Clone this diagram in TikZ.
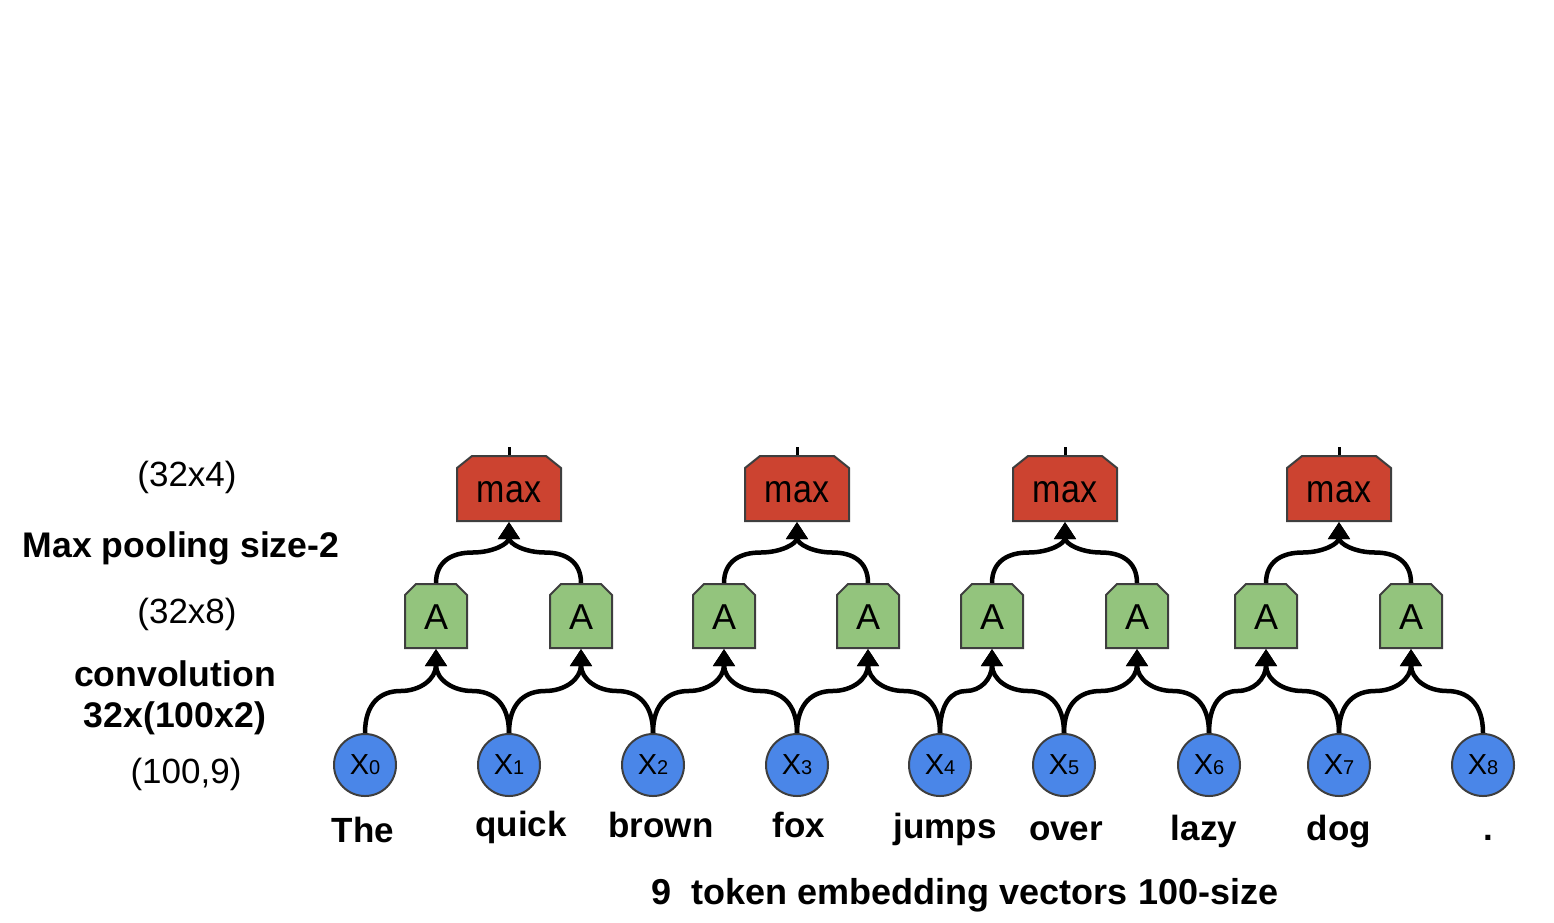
\documentclass[tikz,border=0pt]{standalone}
\usepackage{fontspec}
\setmainfont{Liberation Sans}
\usetikzlibrary{arrows.meta,calc}
\definecolor{maxred}{RGB}{204,67,48}
\definecolor{agreen}{RGB}{147,196,125}
\definecolor{xblue}{RGB}{74,134,232}
\definecolor{edgegray}{RGB}{62,62,62}
\newcommand{\chbox}[8]{%
  \path[fill=#8,draw=edgegray,line width=2pt,line join=miter]
    (#2-#4/2,#3+#5/2) -- (#2-#4/2,#3-#5/2+#7) -- (#2-#4/2+#6,#3-#5/2)
    -- (#2+#4/2-#6,#3-#5/2) -- (#2+#4/2,#3-#5/2+#7) -- (#2+#4/2,#3+#5/2) -- cycle;
  \node[minimum width=#4pt,minimum height=#5pt,inner sep=0pt,outer sep=1pt] (#1) at (#2,#3) {};}
% S-shaped connector from #1 up to #2
\newcommand{\sconn}[2]{%
  \path ($(#1)!.5!(#2)$) coordinate (mc);
  \draw[conn] (#1) .. controls ($(#1)!.72!(#1 |- mc)$) and ($(mc)!.55!(#1 |- mc)$) .. (mc)
     .. controls ($(mc)!.55!(#2 |- mc)$) and ($(#2)!.72!(#2 |- mc)$) .. (#2);}
\begin{document}
\begin{tikzpicture}[x=1pt,y=-1pt,
  conn/.style={line width=4.5pt,-{Triangle[width=21pt,length=17pt]}},
  xnode/.style={circle,draw=edgegray,line width=2pt,fill=xblue,minimum size=62pt,inner sep=0pt,
    font=\fontsize{29}{29}\selectfont},
  boxtext/.style={anchor=base,font=\fontsize{36}{36}\selectfont,inner sep=0pt},
  word/.style={anchor=base,font=\fontsize{35}{35}\selectfont\bfseries,inner sep=0pt},
  side/.style={anchor=base,font=\fontsize{35}{35}\selectfont,inner sep=0pt},
  sideb/.style={anchor=base,font=\fontsize{35.6}{35.6}\selectfont\bfseries,inner sep=0pt}]
\useasboundingbox (0,0) rectangle (1554,922);

% left labels
\node[side]  (l1) at (187,486) {(32x4)};
\node[sideb] (l2) at (181,557) {Max pooling size-2};
\node[side]  (l3) at (187,623) {(32x8)};
\node[sideb] (l4) at (175,686) {convolution};
\node[sideb] (l5) at (175,727) {32x(100x2)};
\node[side]  (l6) at (186,783) {(100,9)};

% max boxes
\foreach \n/\x in {1/509,2/797,3/1065,4/1339}{
  \chbox{m\n}{\x}{488.5}{104}{65}{15}{12}{maxred}
  \node[boxtext,font=\fontsize{34}{34}\selectfont] (mt\n) at (\x,502) {\scalebox{1}[1.15]{max}};
  \draw[line width=3pt] (m\n.north) -- ++(0,-8);
}
% A boxes
\foreach \n/\x in {1/436,2/581,3/724,4/868,5/992,6/1137,7/1266,8/1411}{
  \chbox{a\n}{\x}{616}{62}{64}{11}{11}{agreen}
  \node[boxtext] (at\n) at (\x,629) {A};
}
% input nodes
\foreach \n/\x in {0/365,1/509,2/653,3/797,4/940,5/1064,6/1209,7/1339,8/1483}{
  \node[xnode] (x\n) at (\x,765) {\raisebox{-2pt}{X{\fontsize{20}{20}\selectfont\n}}};
}
% words
\node[word] (w0) at (363,842) {The};
\node[word] (w1) at (521,836) {quick};
\node[word] (w2) at (661,837) {brown};
\node[word] (w3) at (799,837) {fox};
\node[word] (w4) at (945,838) {jumps};
\node[word] (w5) at (1066,840) {over};
\node[word] (w6) at (1204,840) {lazy};
\node[word] (w7) at (1339,840) {dog};
\node[word] (w8) at (1488,840) {.};
\node[word,font=\fontsize{36}{36}\selectfont\bfseries] (cap) at (965,904) {9\ \ token embedding vectors 100-size};

% convolution connectors
\foreach \s/\t in {0/1,1/1,1/2,2/2,2/3,3/3,3/4,4/4,4/5,5/5,5/6,6/6,6/7,7/7,7/8,8/8}{
  \sconn{x\s.north}{a\t.south}
}
% pooling connectors
\foreach \s/\t in {1/1,2/1,3/2,4/2,5/3,6/3,7/4,8/4}{
  \sconn{a\s.north}{m\t.south}
}
\end{tikzpicture}
\end{document}
